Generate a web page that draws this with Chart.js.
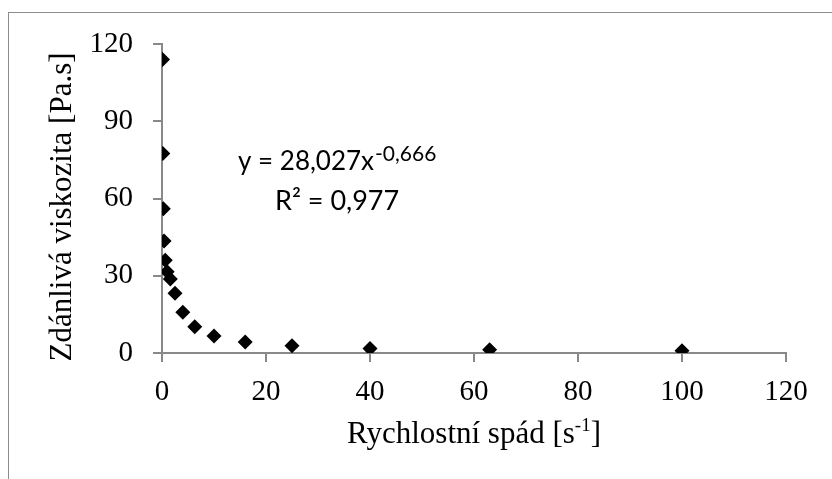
<!DOCTYPE html>
<html>
<head>
<meta charset="utf-8">
<script src="https://cdn.jsdelivr.net/npm/chart.js@4"></script>
<style>
  html, body { margin: 0; padding: 0; background: #fff; overflow: hidden; }
  #frame {
    position: absolute; left: 8px; top: 12px;
    width: 900px; height: 600px;
    border: 1.5px solid #8c8c8c;
  }
  #wrap { position: absolute; left: 0; top: 0; width: 832px; height: 479px; }
</style>
</head>
<body>
<div id="frame"></div>
<div id="wrap"><canvas id="viscChart"></canvas></div>
<script>
// shear rate [1/s] and apparent viscosity [Pa.s]
const shearRates = [0.1, 0.16, 0.25, 0.4, 0.63, 1, 1.6, 2.5, 4, 6.3, 10, 16, 25, 40, 63, 100];
const viscosities = [114, 77.5, 56, 43.5, 36, 31.6, 28.7, 23.2, 15.8, 10.2, 6.6, 4.3, 2.8, 1.7, 1.3, 0.9];
const xTicks = [0, 20, 40, 60, 80, 100, 120];
const yTicks = [0, 30, 60, 90, 120];

const fitLine = { base: 'y = 28,027x', sup: '-0,666' };
const r2Line = 'R\u00B2 = 0,977';
const xTitle = { base: 'Rychlostn\u00ED sp\u00E1d [s', sup: '-1', tail: ']' };
const yTitle = 'Zd\u00E1nliv\u00E1 viskozita [Pa.s]';

const AXIS_GREY = '#898989';
const serif = '"Liberation Serif", "Times New Roman", serif';
const sans = 'Lato, "Noto Sans", sans-serif';

document.addEventListener('DOMContentLoaded', () => {
  const canvas = document.getElementById('viscChart');
  const ctx = canvas.getContext('2d');

  // titles + trendline equation drawn by hand (superscripts)
  const textPlugin = {
    id: 'textBits',
    afterDraw(chart) {
      const c = chart.ctx;
      const area = chart.chartArea;
      c.save();
      c.fillStyle = '#000';
      c.textBaseline = 'alphabetic';

      // y axis title
      c.save();
      c.translate(63, 207);
      c.rotate(-Math.PI / 2);
      c.font = '31px ' + serif;
      c.textAlign = 'center';
      c.textBaseline = 'middle';
      c.fillText(yTitle, 0, 0);
      c.restore();

      // x axis title with superscript
      c.font = '31px ' + serif;
      const w1 = c.measureText(xTitle.base).width;
      c.font = '19px ' + serif;
      const w2 = c.measureText(xTitle.sup).width;
      c.font = '31px ' + serif;
      const w3 = c.measureText(xTitle.tail).width;
      let x0 = (area.left + area.right) / 2 - (w1 + w2 + w3) / 2;
      const yb = 443;
      c.textAlign = 'left';
      c.fillText(xTitle.base, x0, yb);
      c.font = '19px ' + serif;
      c.fillText(xTitle.sup, x0 + w1, yb - 12);
      c.font = '31px ' + serif;
      c.fillText(xTitle.tail, x0 + w1 + w2, yb);

      // trendline equation
      c.font = '26px ' + sans;
      c.textAlign = 'left';
      const ex = 238, ey = 170;
      c.fillText(fitLine.base, ex, ey);
      const ew = c.measureText(fitLine.base).width;
      c.font = '21px ' + sans;
      c.fillText(fitLine.sup, ex + ew + 1, ey - 9);
      c.font = '27px ' + sans;
      c.fillText(r2Line, 275, 210);

      c.restore();
    }
  };

  window.viscChart = new Chart(ctx, {
    type: 'scatter',
    data: {
      datasets: [{
        label: 'Viskozita',
        data: shearRates.map((x, i) => ({ x: x, y: viscosities[i] })),
        pointStyle: 'rectRot',
        pointRadius: 7.5,
        pointHoverRadius: 7.5,
        backgroundColor: '#000',
        borderColor: '#000',
        borderWidth: 0
      }]
    },
    options: {
      responsive: true,
      maintainAspectRatio: false,
      animation: false,
      layout: { padding: { top: 44, right: 46, left: 0, bottom: 0 } },
      plugins: {
        legend: { display: false },
        tooltip: { enabled: false }
      },
      scales: {
        x: {
          type: 'linear',
          min: 0,
          max: 120,
          afterFit: (s) => { s.height = 126; },
          afterBuildTicks: (s) => { s.ticks = xTicks.map(v => ({ value: v })); },
          border: { color: AXIS_GREY, width: 2 },
          grid: { drawOnChartArea: false, drawTicks: true, tickLength: 9, color: AXIS_GREY, lineWidth: 2 },
          ticks: { color: '#000', padding: 13, maxRotation: 0, font: { family: serif, size: 29 } }
        },
        y: {
          min: 0,
          max: 120,
          afterFit: (s) => { s.width = 162; },
          afterBuildTicks: (s) => { s.ticks = yTicks.map(v => ({ value: v })); },
          border: { color: AXIS_GREY, width: 2 },
          grid: { drawOnChartArea: false, drawTicks: true, tickLength: 9, color: AXIS_GREY, lineWidth: 2 },
          ticks: { color: '#000', padding: 20, font: { family: serif, size: 29 } }
        }
      }
    },
    plugins: [textPlugin]
  });
});
</script>
</body>
</html>
